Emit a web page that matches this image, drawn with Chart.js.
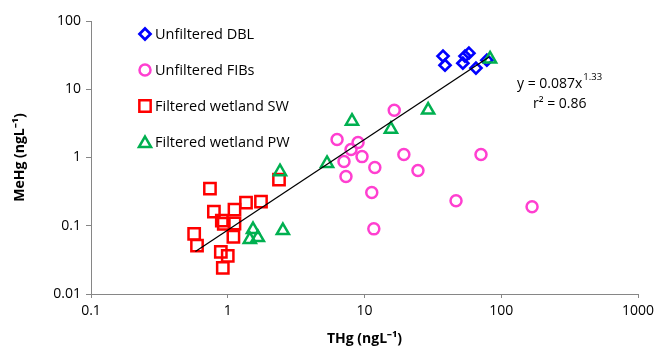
<!DOCTYPE html>
<html>
<head>
<meta charset="utf-8">
<script src="https://cdn.jsdelivr.net/npm/chart.js@4.4.0/dist/chart.umd.min.js"></script>
<style>
  html, body { margin: 0; padding: 0; background: #fff; }
  #wrap { width: 657px; height: 351px; }
</style>
</head>
<body>
<div id="wrap"><canvas id="chart" width="657" height="351"></canvas></div>
<script>
// Values (THg = x, MeHg = y)
const dblX = [37.5, 38.8, 54.3, 58.0, 52.4, 65.3, 78.5];
const dblY = [30.6, 22.5, 30.6, 33.8, 24.1, 20.4, 26.7];

const fibX = [16.5, 6.30, 8.97, 7.97, 7.08, 9.59, 19.4, 11.9, 7.32, 24.6, 71.1, 11.3, 46.7, 168, 11.7];
const fibY = [4.91, 1.84, 1.66, 1.31, 0.874, 1.03, 1.11, 0.713, 0.526, 0.644, 1.11, 0.306, 0.233, 0.190, 0.090];

const swX = [0.741, 2.37, 0.792, 1.12, 1.36, 1.75, 0.905, 0.935, 1.12, 1.10, 0.568, 0.596, 0.890, 1.0, 0.920];
const swY = [0.350, 0.475, 0.161, 0.172, 0.218, 0.225, 0.119, 0.107, 0.108, 0.069, 0.076, 0.051, 0.0415, 0.0362, 0.0241];

const pwX = [2.41, 1.53, 1.45, 1.66, 2.53, 5.32, 8.10, 15.6, 29.2, 82.8];
const pwY = [0.62, 0.088, 0.063, 0.067, 0.085, 0.82, 3.4, 2.6, 4.95, 27.8];

// Trend line end points (y = 0.087x^1.33)
const trendX = [0.58, 82];
const trendY = [0.042, 30];

const xTicks = [0.1, 1, 10, 100, 1000];
const yTicks = [0.01, 0.1, 1, 10, 100];

const seriesNames = ['Unfiltered DBL', 'Unfiltered FIBs', 'Filtered wetland SW', 'Filtered wetland PW'];

function toPoints(xs, ys) {
  return xs.map((x, i) => ({ x: x, y: ys[i] }));
}

const FONT = "'Open Sans', 'Liberation Sans', sans-serif";

// Legend inside the plot, top left
const legendPlugin = {
  id: 'insideLegend',
  afterDraw(chart) {
    const ctx = chart.ctx;
    const left = chart.chartArea.left + 54;
    const top = chart.chartArea.top + 13;
    ctx.save();
    ctx.font = '14.5px ' + FONT;
    ctx.textBaseline = 'middle';
    for (let i = 0; i < 4; i++) {
      const ds = chart.data.datasets[i];
      const y = top + i * 36;
      ctx.strokeStyle = ds.borderColor;
      ctx.fillStyle = '#fff';
      ctx.lineWidth = ds.borderWidth;
      Chart.helpers.drawPoint(ctx, {
        pointStyle: ds.pointStyle,
        radius: ds.pointRadius,
        rotation: 0,
        borderWidth: ds.borderWidth
      }, left, y + (ds.pointStyle === 'triangle' ? 1.5 : 0));
      ctx.fillStyle = '#000';
      ctx.fillText(seriesNames[i], left + 10, y + 1);
    }
    ctx.restore();
  }
};

// Regression equation
const eqPlugin = {
  id: 'equation',
  afterDraw(chart) {
    const ctx = chart.ctx;
    ctx.save();
    ctx.fillStyle = '#000';
    ctx.textBaseline = 'alphabetic';
    ctx.font = '14px ' + FONT;
    const main = 'y = 0.087x';
    const x0 = 517;
    ctx.fillText(main, x0, 88);
    const w = ctx.measureText(main).width;
    ctx.font = '9.5px ' + FONT;
    ctx.fillText('1.33', x0 + w + 1, 80);
    ctx.font = '14px ' + FONT;
    ctx.fillText('r\u00B2 = 0.86', 533, 108);
    ctx.restore();
  }
};

const axisColor = '#868686';

new Chart(document.getElementById('chart'), {
  type: 'scatter',
  data: {
    datasets: [
      {
        label: seriesNames[0],
        data: toPoints(dblX, dblY),
        pointStyle: 'rectRot',
        pointRadius: 5.5,
        borderColor: '#0000ff',
        backgroundColor: 'rgba(0,0,0,0)',
        borderWidth: 2.7,
        order: 4
      },
      {
        label: seriesNames[1],
        data: toPoints(fibX, fibY),
        pointStyle: 'circle',
        pointRadius: 5.5,
        borderColor: '#ff3fd0',
        backgroundColor: 'rgba(0,0,0,0)',
        borderWidth: 2.5,
        order: 3
      },
      {
        label: seriesNames[2],
        data: toPoints(swX, swY),
        pointStyle: 'rect',
        pointRadius: 8,
        borderColor: '#ff0000',
        backgroundColor: 'rgba(0,0,0,0)',
        borderWidth: 2.5,
        order: 2
      },
      {
        label: seriesNames[3],
        data: toPoints(pwX, pwY),
        pointStyle: 'triangle',
        pointRadius: 7,
        borderColor: '#00b050',
        backgroundColor: 'rgba(0,0,0,0)',
        borderWidth: 2.5,
        order: 1
      },
      {
        label: 'trend',
        type: 'line',
        data: toPoints(trendX, trendY),
        borderColor: '#000',
        borderWidth: 1.3,
        pointRadius: 0,
        fill: false,
        order: 0
      }
    ]
  },
  options: {
    responsive: false,
    animation: false,
    layout: { padding: { left: 0, right: 19, top: 21, bottom: 0 } },
    plugins: {
      legend: { display: false },
      tooltip: { enabled: false }
    },
    scales: {
      x: {
        type: 'logarithmic',
        min: 0.1,
        max: 1000,
        afterBuildTicks: function(axis) {
          axis.ticks = xTicks.map(v => ({ value: v }));
        },
        afterFit: function(scale) {
          scale.height = 57;
          scale.paddingRight = 0;
          scale.paddingLeft = 0;
        },
        border: { display: true, color: axisColor, width: 1 },
        grid: { display: true, drawOnChartArea: false, drawTicks: true, tickLength: 4, color: axisColor },
        ticks: {
          color: '#000',
          font: { family: FONT, size: 14 },
          padding: 5,
          maxRotation: 0,
          autoSkip: false,
          callback: function(v) { return String(v); }
        },
        title: {
          display: true,
          text: 'THg (ngL\u207B\u00B9)',
          color: '#000',
          font: { family: FONT, size: 14, weight: 'bold' },
          padding: { top: 0, bottom: 4 }
        }
      },
      y: {
        type: 'logarithmic',
        min: 0.01,
        max: 100,
        afterBuildTicks: function(axis) {
          axis.ticks = yTicks.map(v => ({ value: v }));
        },
        afterFit: function(scale) { scale.width = 91; },
        border: { display: true, color: axisColor, width: 1 },
        grid: { display: true, drawOnChartArea: false, drawTicks: true, tickLength: 5, color: axisColor },
        ticks: {
          color: '#000',
          font: { family: FONT, size: 14 },
          padding: 5,
          autoSkip: false,
          callback: function(v) { return String(v); }
        },
        title: {
          display: true,
          text: 'MeHg (ngL\u207B\u00B9)',
          color: '#000',
          font: { family: FONT, size: 14, weight: 'bold' },
          padding: { top: 12, bottom: 0 }
        }
      }
    }
  },
  plugins: [legendPlugin, eqPlugin]
});
</script>
</body>
</html>
